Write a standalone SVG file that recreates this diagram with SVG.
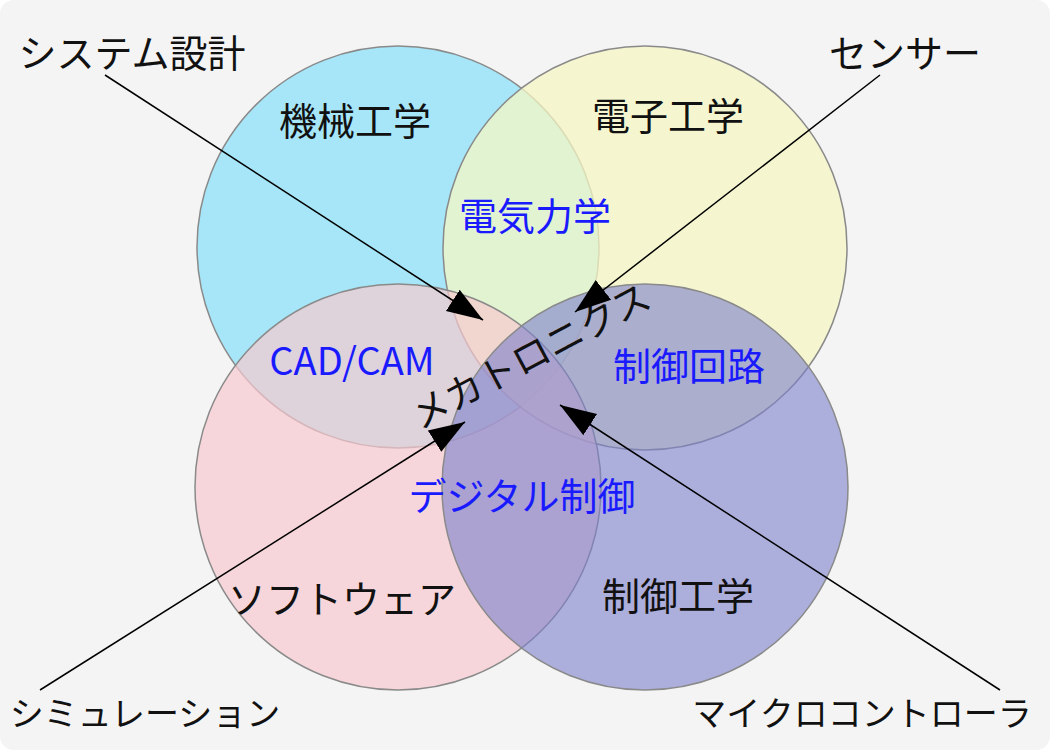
<svg xmlns="http://www.w3.org/2000/svg" width="1050" height="750" viewBox="0 0 1050 750">
<style>
.c{stroke:#8a8a8a;stroke-width:1.5}
.t{font-family:"Noto Sans CJK JP","Liberation Sans",sans-serif;font-size:38px;text-anchor:middle}
.s{font-size:34px}
.b{fill:#1a1aff}
.k{fill:#111}
.l{stroke:#000;stroke-width:1.5;fill:none}
</style>
<defs>
<marker id="m" viewBox="0 0 10 10" refX="10" refY="5" markerWidth="36" markerHeight="36" markerUnits="userSpaceOnUse" orient="auto"><path d="M0,1.5 L10,5 L0,8.5 z" fill="#000"/></marker></defs>
<rect x="0" y="0" width="1050" height="750" rx="14" fill="#f4f4f4"/>
<g id="mech"><circle class="c" cx="398" cy="247" r="201" fill="#a6e6f8"/></g>
<g id="elec"><circle class="c" cx="645" cy="248" r="202" fill="#f6f7c4" fill-opacity="0.75"/></g>
<g id="soft"><circle class="c" cx="398" cy="487" r="203" fill="#f6c9cf" fill-opacity="0.7"/></g>
<g id="ctrl"><circle class="c" cx="645" cy="487" r="203" fill="#7b7fcc" fill-opacity="0.6"/></g>
<g id="labels">
<text class="t k" x="355" y="135">機械工学</text>
<text class="t k" x="668" y="130">電子工学</text>
<text class="t b" x="535" y="230">電気力学</text>
<text class="t b" x="352" y="375">CAD/CAM</text>
<text class="t b" x="689" y="380">制御回路</text>
<text class="t b" x="522" y="510">デジタル制御</text>
<text class="t k" x="342" y="613">ソフトウェア</text>
<text class="t k" x="678" y="610">制御工学</text>
<text class="t k" x="132" y="67">システム設計</text>
<text class="t k" x="905" y="67">センサー</text>
<text class="t k s" x="145" y="726">シミュレーション</text>
<text class="t k s" x="862" y="726">マイクロコントローラ</text>
<text class="t k" x="0" y="0" transform="translate(537,368) rotate(-28)">メカトロニクス</text>
</g>
<g id="connectors">
<line class="l" x1="105" y1="75" x2="483" y2="320" marker-end="url(#m)"/>
<line class="l" x1="880" y1="75" x2="575" y2="312" marker-end="url(#m)"/>
<line class="l" x1="40" y1="690" x2="465" y2="422" marker-end="url(#m)"/>
<line class="l" x1="1000" y1="690" x2="560" y2="405" marker-end="url(#m)"/>
</g>
</svg>
